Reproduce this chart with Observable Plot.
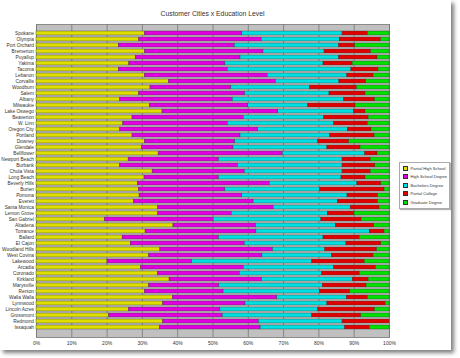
<!DOCTYPE html>
<html>
<head>
<meta charset="utf-8">
<script src="https://cdn.jsdelivr.net/npm/d3@7"></script>
<script src="https://cdn.jsdelivr.net/npm/@observablehq/plot@0.6"></script>
<style>
  html, body { margin: 0; padding: 0; background: #fff; width: 460px; height: 358px; overflow: hidden; }
  #panel { position: absolute; left: 0; top: 0; width: 451px; height: 350px; background: #fff;
           box-shadow: 3px 3px 4px rgba(0,0,0,0.5); }
  #chart { position: absolute; left: 0; top: 0; }
  #title { position: absolute; left: 36px; width: 353px; top: 10px; text-align: center;
           font-family: "Liberation Sans", Arial, sans-serif; font-size: 6.8px; color: #333; }
  #legend { position: absolute; left: 399px; top: 162px; width: 49px; height: 45px; background: #fff;
            border: 1px solid #aaa; box-shadow: 1px 1px 1px rgba(0,0,0,0.3);
            font-family: "Liberation Sans", Arial, sans-serif; font-size: 4.1px; color: #333; }
  .item { position: absolute; left: 3px; height: 6px; display: flex; align-items: center; white-space: nowrap; }
  .sw { width: 3px; height: 3px; border: 0.5px solid #333; margin-right: 2.5px; flex: none; }
</style>
</head>
<body>
<div id="panel"></div>
<div id="chart"></div>
<div id="title">Customer Cities x Education Level</div>
<div id="legend"></div>
<script>
const cities = ["Spokane","Olympia","Port Orchard","Bremerton","Puyallup","Yakima","Tacoma","Lebanon","Corvallis","Woodburn",
  "Salem","Albany","Milwaukie","Lake Oswego","Beaverton","W. Linn","Oregon City","Portland","Downey","Glendale",
  "Bellflower","Newport Beach","Burbank","Chula Vista","Long Beach","Beverly Hills","Burien","Pomona","Everett","Santa Monica",
  "Lemon Grove","San Gabriel","Altadena","Torrance","Ballard","El Cajon","Woodland Hills","West Covina","Lakewood","Arcadia",
  "Coronado","Kirkland","Marysville","Renton","Walla Walla","Lynnwood","Lincoln Acres","Grossmont","Redmond","Issaquah"];

const partialHighSchool = [30.7,29.1,23.3,30.7,28.1,26.3,23.3,30.7,37.5,32.3,
  29.1,23.7,32.1,35.7,27.2,24.6,23.7,27.2,30.7,29.9,
  34.6,26.1,23.7,32.9,30.6,28.7,29.0,29.2,27.6,34.5,
  34.5,19.4,38.8,30.9,24.4,26.7,35.1,31.9,20.1,29.6,
  34.4,37.7,31.9,30.7,38.6,35.9,26.2,20.6,35.9,35.0];
const highSchoolDegree = [27.6,34.7,32.9,33.6,29.7,27.2,30.9,34.8,30.3,22.9,
  30.0,31.9,27.9,32.8,31.5,29.6,39.1,30.6,25.6,25.9,
  35.2,25.6,33.4,26.1,21.1,37.4,24.5,29.1,33.9,32.7,
  20.8,30.8,23.4,31.4,27.3,32.3,31.9,32.1,24.0,29.1,
  23.2,26.2,19.9,22.3,29.6,23.3,25.9,32.2,27.1,28.5];
const bachelorsDegree = [28.4,22.1,29.5,17.3,27.9,27.8,35.0,22.5,18.0,22.3,
  23.9,31.5,17.0,21.4,22.8,30.1,25.4,25.4,23.5,26.6,
  23.3,35.0,29.6,27.7,34.7,24.8,26.9,29.8,23.9,21.8,
  27.2,30.5,22.6,32.1,29.6,28.8,14.8,19.7,34.0,25.6,
  23.3,25.7,29.3,27.3,19.7,23.2,27.7,25.3,23.7,23.9];
const partialCollege = [7.2,11.7,4.6,13.2,10.9,8.3,7.7,7.5,7.6,13.3,
  10.2,8.8,13.4,3.3,12.6,9.6,6.7,12.6,8.8,9.4,
  3.5,8.0,9.3,8.0,6.8,6.8,18.2,8.7,11.4,8.2,
  7.6,11.4,10.9,4.2,10.3,9.9,14.7,11.8,14.9,11.9,
  10.7,4.5,12.4,8.6,6.0,16.5,16.1,13.9,13.3,7.1];
const graduateDegree = [6.1,2.4,9.7,5.2,3.4,10.4,3.1,4.5,6.6,9.2,
  6.8,4.1,9.6,6.8,5.9,6.1,5.1,4.2,11.4,8.2,
  3.4,5.3,4.0,5.3,6.8,2.3,1.4,3.2,3.2,2.8,
  9.9,7.9,4.3,1.4,8.4,2.3,3.5,4.5,7.0,3.8,
  8.4,5.9,6.5,11.1,6.1,1.1,4.1,8.0,0.0,5.5];

const levels = ["Partial High School","High School Degree","Bachelors Degree","Partial College","Graduate Degree"];
const levelColors = ["#dede00","#e000e0","#00e0e0","#e00000","#00e000"];
const xTicks = [0,0.1,0.2,0.3,0.4,0.5,0.6,0.7,0.8,0.9,1];

const series = [partialHighSchool, highSchoolDegree, bachelorsDegree, partialCollege, graduateDegree];
const data = cities.flatMap((city, i) => levels.map((level, j) => ({city, level, value: series[j][i]})));

const chart = Plot.plot({
  width: 460, height: 358,
  marginLeft: 36, marginRight: 71, marginTop: 24, marginBottom: 21,
  style: {fontFamily: "'Liberation Sans', Arial, sans-serif", fontSize: "4.8px", color: "#333", background: "transparent"},
  x: {domain: [0, 1], label: null},
  y: {domain: cities, padding: 0.3, label: null},
  color: {domain: levels, range: levelColors},
  marks: [
    Plot.frame({fill: "#c0c0c0", stroke: "#8a8a8a"}),
    Plot.gridX({ticks: xTicks, stroke: "#777", strokeOpacity: 1, strokeWidth: 0.8}),
    Plot.barX(data, Plot.stackX({x: "value", y: "city", fill: "level", offset: "normalize",
      stroke: "#3a3a3a", strokeWidth: 0.4})),
    Plot.axisX({ticks: xTicks, tickFormat: d3.format(".0%"), tickSize: 0, tickPadding: 4, label: null, fontSize: "5px"}),
    Plot.axisY({tickSize: 0, tickPadding: 2.5, label: null})
  ]
});
document.getElementById("chart").appendChild(chart);

const legend = document.getElementById("legend");
levels.forEach((lvl, i) => {
  const it = document.createElement("div");
  it.className = "item";
  it.style.top = (2 + i * 8.6) + "px";
  const sw = document.createElement("span");
  sw.className = "sw";
  sw.style.background = levelColors[i];
  const tx = document.createElement("span");
  tx.textContent = lvl;
  it.appendChild(sw); it.appendChild(tx);
  legend.appendChild(it);
});
</script>
</body>
</html>
